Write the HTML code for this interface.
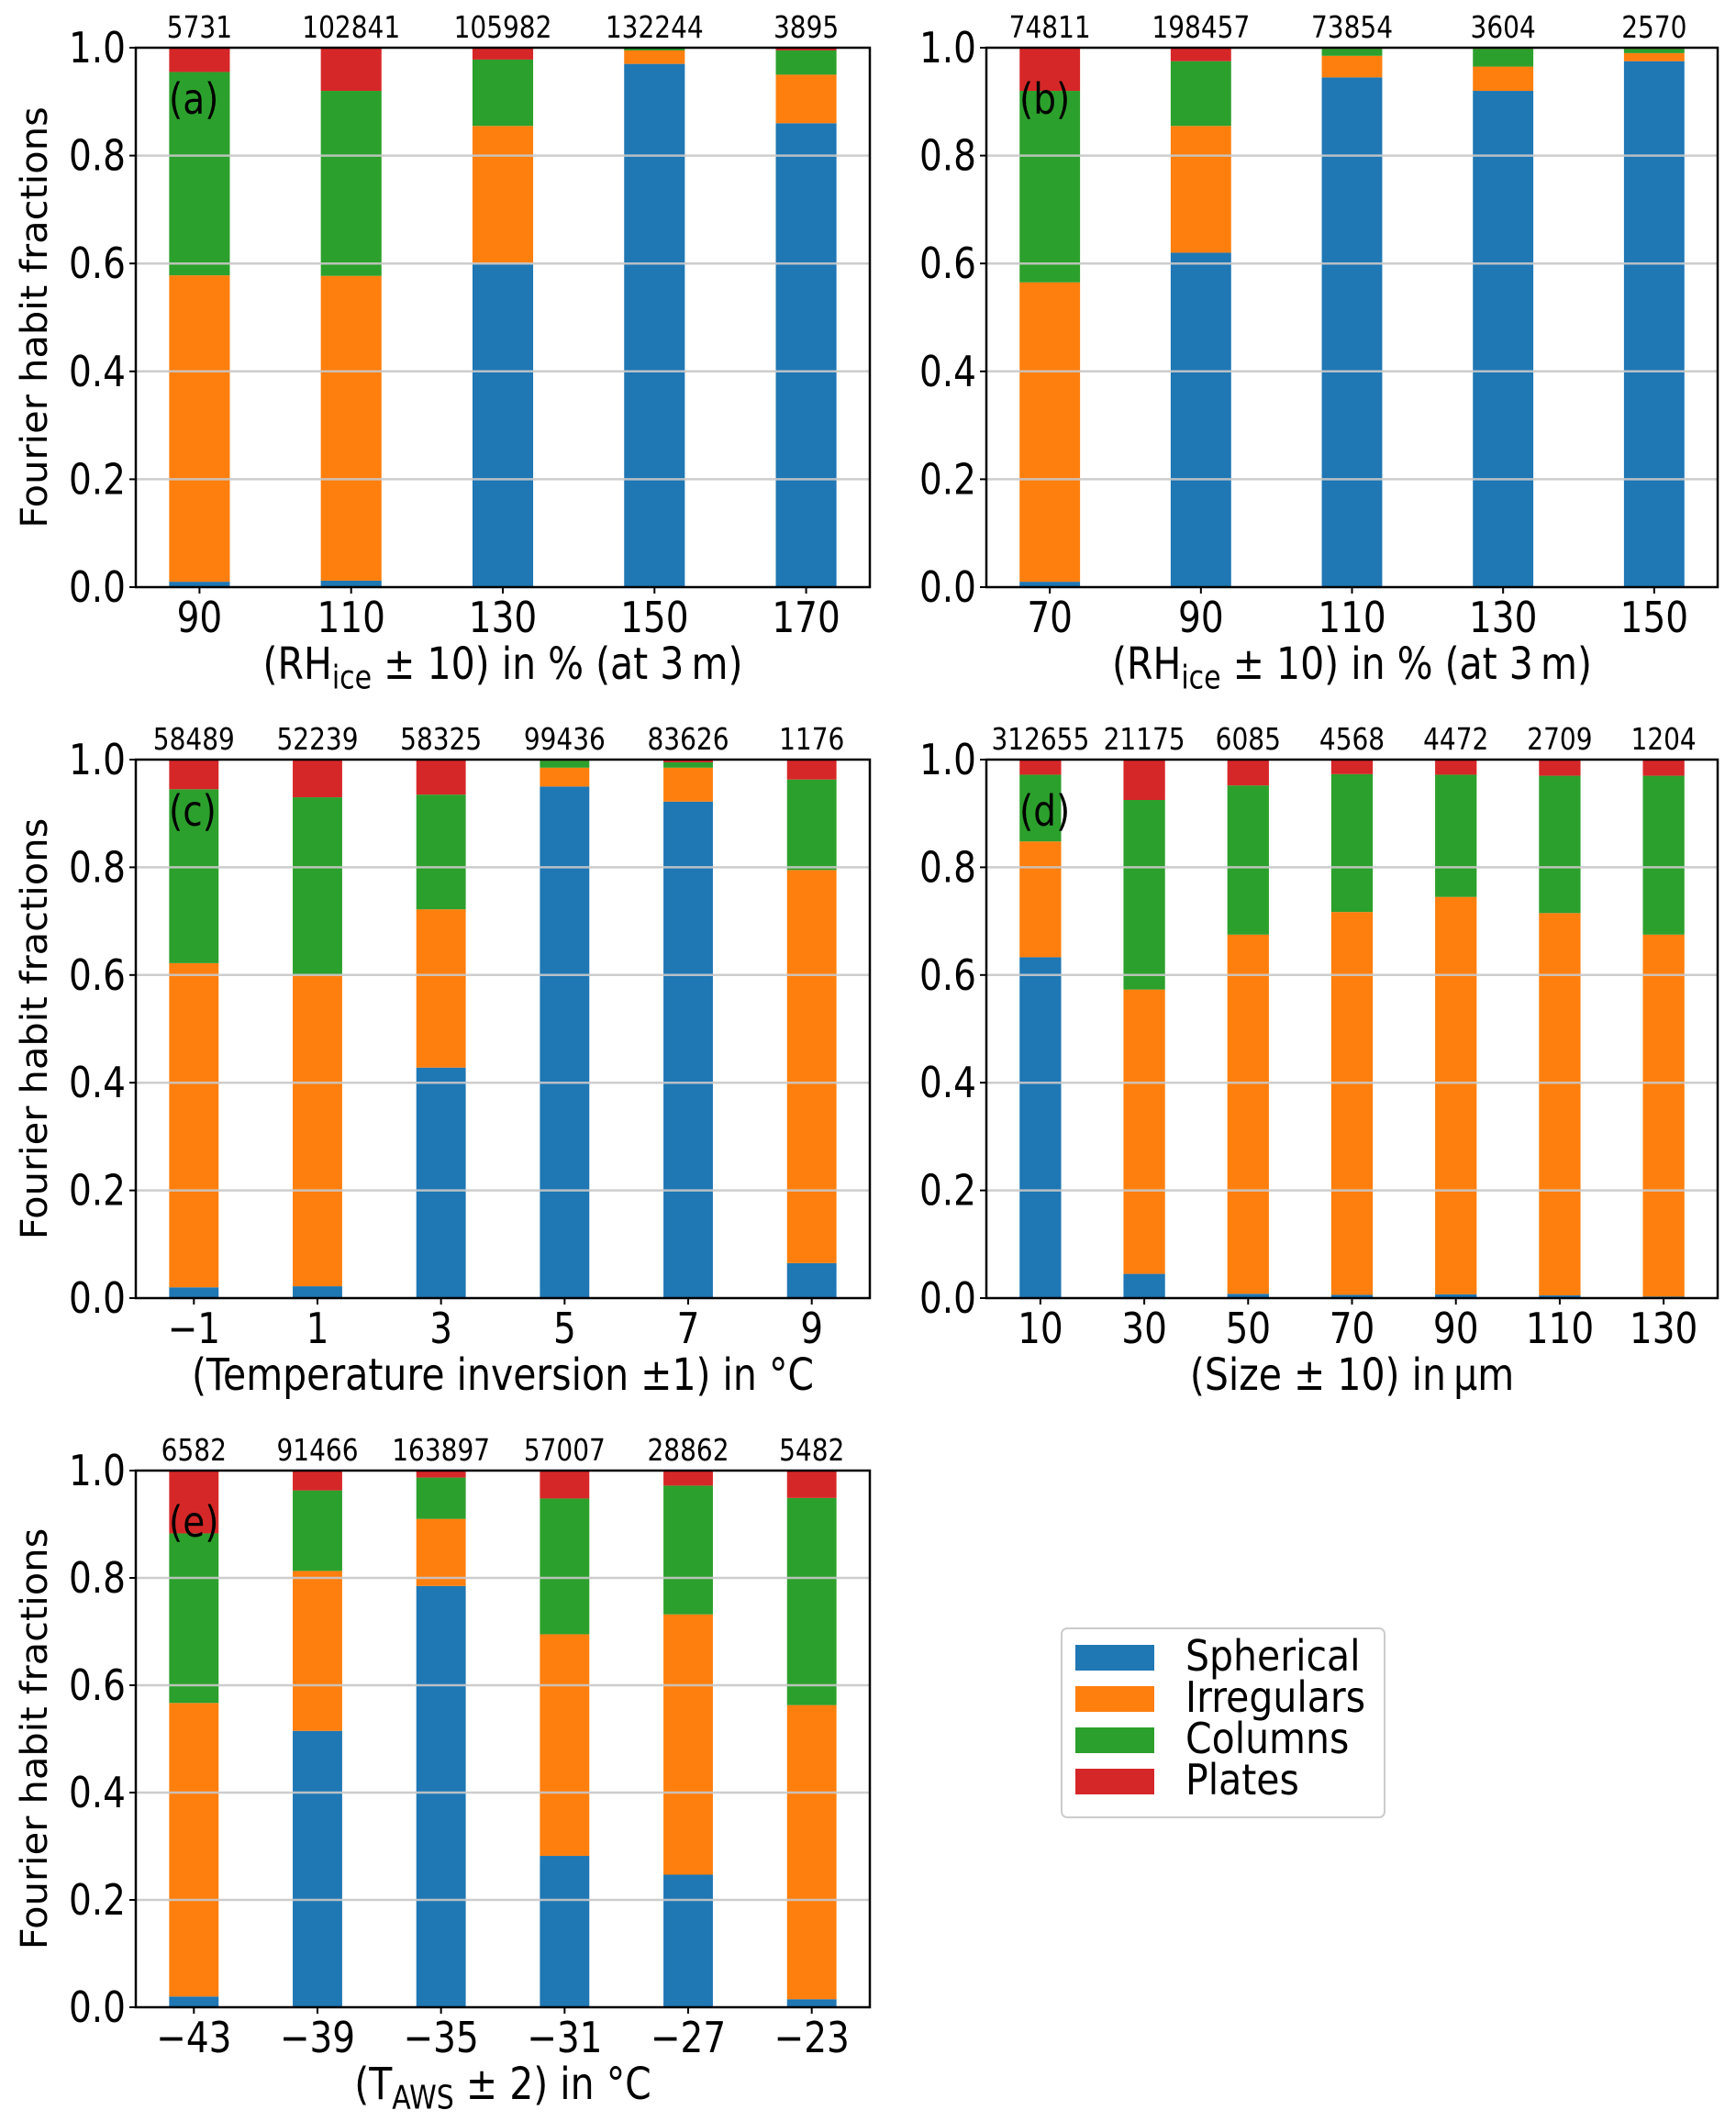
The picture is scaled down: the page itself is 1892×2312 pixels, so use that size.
<!DOCTYPE html>
<html><head><meta charset="utf-8">
<style>
html,body{margin:0;padding:0;background:#fff;}
svg{display:block;font-family:"DejaVu Sans","Liberation Sans",sans-serif;}
</style></head>
<body>
<svg id="fig" width="1892" height="2312" viewBox="0 0 1892 2312" xmlns="http://www.w3.org/2000/svg">
<g>
<rect x="1157" y="1775" width="352" height="206" rx="6" fill="#fff" stroke="#ccc" stroke-width="2"/>
<rect x="1172" y="1793" width="86" height="28" fill="#1f77b4"/>
<text font-size="41" transform="translate(1292,1821) scale(1,1.12)">Spherical</text>
<rect x="1172" y="1838" width="86" height="28" fill="#ff7f0e"/>
<text font-size="41" transform="translate(1292,1866) scale(1,1.12)">Irregulars</text>
<rect x="1172" y="1883" width="86" height="28" fill="#2ca02c"/>
<text font-size="41" transform="translate(1292,1911) scale(1,1.12)">Columns</text>
<rect x="1172" y="1928" width="86" height="28" fill="#d62728"/>
<text font-size="41" transform="translate(1292,1956) scale(1,1.12)">Plates</text>
</g>
</svg>
<script>
// Panel (a)
const aTicks=["90","110","130","150","170"];
const aCounts=["5731","102841","105982","132244","3895"];
const aSpherical=[0.01,0.012,0.60,0.97,0.86];
const aIrregulars=[0.568,0.565,0.255,0.025,0.09];
const aColumns=[0.377,0.343,0.123,0.004,0.045];
const aPlates=[0.045,0.08,0.022,0.001,0.005];
// Panel (b)
const bTicks=["70","90","110","130","150"];
const bCounts=["74811","198457","73854","3604","2570"];
const bSpherical=[0.01,0.62,0.945,0.92,0.975];
const bIrregulars=[0.555,0.235,0.04,0.045,0.015];
const bColumns=[0.355,0.12,0.013,0.033,0.008];
const bPlates=[0.08,0.025,0.002,0.002,0.002];
// Panel (c)
const cTicks=["\u22121","1","3","5","7","9"];
const cCounts=["58489","52239","58325","99436","83626","1176"];
const cSpherical=[0.02,0.022,0.428,0.95,0.922,0.065];
const cIrregulars=[0.602,0.578,0.294,0.035,0.063,0.73];
const cColumns=[0.323,0.33,0.213,0.013,0.01,0.168];
const cPlates=[0.055,0.07,0.065,0.002,0.005,0.037];
// Panel (d)
const dTicks=["10","30","50","70","90","110","130"];
const dCounts=["312655","21175","6085","4568","4472","2709","1204"];
const dSpherical=[0.633,0.045,0.008,0.006,0.007,0.005,0.003];
const dIrregulars=[0.215,0.528,0.667,0.711,0.738,0.71,0.672];
const dColumns=[0.124,0.352,0.277,0.256,0.227,0.255,0.295];
const dPlates=[0.028,0.075,0.048,0.027,0.028,0.03,0.03];
// Panel (e)
const eTicks=["\u221243","\u221239","\u221235","\u221231","\u221227","\u221223"];
const eCounts=["6582","91466","163897","57007","28862","5482"];
const eSpherical=[0.02,0.515,0.785,0.282,0.247,0.015];
const eIrregulars=[0.547,0.298,0.125,0.413,0.485,0.548];
const eColumns=[0.316,0.15,0.077,0.253,0.24,0.386];
const ePlates=[0.117,0.037,0.013,0.052,0.028,0.051];
const yTicks=[0,0.2,0.4,0.6,0.8,1.0];

const NS="http://www.w3.org/2000/svg";
const svg=document.getElementById('fig');
const colors=["#1f77b4","#ff7f0e","#2ca02c","#d62728"];
const names=["spherical","irregulars","columns","plates"];
const SY=1.18;
function mk(tag,attrs,parent){const e=document.createElementNS(NS,tag);for(const k in attrs)e.setAttribute(k,attrs[k]);parent.appendChild(e);return e;}
function txt(x,y,size,anchor,parent){return mk('text',{'font-size':size,'text-anchor':anchor,transform:`translate(${x},${y}) scale(1,${SY})`},parent);}

function panel(id,L,T,W,H,ticks,counts,series,xlabelParts){
  const g=mk('g',{},svg);
  
  
  const n=ticks.length;
  const lo=-0.2-0.05*(n-1+0.4), hi=n-1+0.2+0.05*(n-1+0.4);
  const xs=v=>L+(v-lo)/(hi-lo)*W;
  const ys=v=>T+H-v*H;
  const bw=0.4*W/(hi-lo);
  for(let i=0;i<n;i++){
    let base=0;
    for(let s=0;s<4;s++){
      const v=series[s][i];
      const r=mk('rect',{x:xs(i)-bw/2,y:ys(base+v),width:bw,height:Math.max(0,ys(base)-ys(base+v)),fill:colors[s]},g);
      
      
      base+=v;
    }
    const c=txt(xs(i),T-11,28,'middle',g);
    
    
    c.textContent=counts[i];
    const tl=txt(xs(i),T+H+49,39,'middle',g);
    
    
    tl.textContent=ticks[i];
    const tk=mk('line',{x1:xs(i),x2:xs(i),y1:T+H,y2:T+H+7,stroke:'#000','stroke-width':2},g);
    
    
  }
  yTicks.forEach(v=>{
    if(v>0&&v<1){
      const gl=mk('line',{x1:L,x2:L+W,y1:ys(v),y2:ys(v),stroke:'#c8c8c8','stroke-width':2.5,'stroke-opacity':0.9},g);
      
      
    }
    const t=mk('line',{x1:L-7,x2:L,y1:ys(v),y2:ys(v),stroke:'#000','stroke-width':2},g);
    
    
    const tl=txt(L-11,ys(v)+16,39,'end',g);
    
    
    tl.textContent=v.toFixed(1);
  });
  const fr=mk('rect',{x:L,y:T,width:W,height:H,fill:'none',stroke:'#000','stroke-width':2.5},g);
  
  
  const pl=txt(L+36,T+72,39,'start',g);
  
  
  pl.textContent='('+id+')';
  if(L<500){
    const yl=mk('text',{'font-size':40,'text-anchor':'middle',transform:`translate(51,${T+H/2}) rotate(-90) scale(1.04,1)`},g);
    
    
    yl.textContent='Fourier habit fractions';
  }
  const xl=txt(L+W/2,T+H+100,41,'middle',g);
  
  
  xlabelParts.forEach(p=>{
    const ts=mk('tspan',{},xl);
    ts.textContent=p[0];
    if(p[1]){ts.setAttribute('font-size','30');ts.setAttribute('dy','9');}
    else if(p[2]){ts.setAttribute('dy','-9');}
  });
}
const rh=[["(RH"],["ice",1],[" \u00b1 10) in %  (at 3\u2009m)",0,1]];
panel('a',148,52,800,588,aTicks,aCounts,[aSpherical,aIrregulars,aColumns,aPlates],rh);
panel('b',1075,52,797,588,bTicks,bCounts,[bSpherical,bIrregulars,bColumns,bPlates],rh);
panel('c',148,828,800,587,cTicks,cCounts,[cSpherical,cIrregulars,cColumns,cPlates],[["(Temperature inversion \u00b11) in \u00b0C"]]);
panel('d',1075,828,797,587,dTicks,dCounts,[dSpherical,dIrregulars,dColumns,dPlates],[["(Size \u00b1 10) in\u2009\u03bcm"]]);
panel('e',148,1603,800,585,eTicks,eCounts,[eSpherical,eIrregulars,eColumns,ePlates],[["(T"],["AWS",1],[" \u00b1 2) in \u00b0C",0,1]]);
</script>
</body></html>
